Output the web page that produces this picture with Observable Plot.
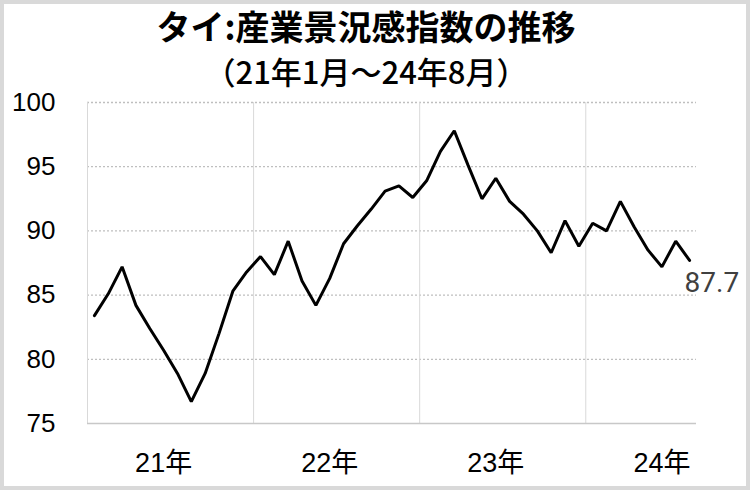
<!DOCTYPE html>
<html>
<head>
<meta charset="utf-8">
<script src="https://cdn.jsdelivr.net/npm/d3@7"></script>
<script src="https://cdn.jsdelivr.net/npm/@observablehq/plot@0.6"></script>
<style>
  html, body { margin: 0; padding: 0; background: #fff; }
  #wrap { position: relative; width: 750px; height: 490px; overflow: hidden; background: #fff; }
  #frame { position: absolute; left: 0; top: 0; width: 750px; height: 490px; box-sizing: border-box;
           border: 4px solid #d9d9d9; pointer-events: none; }
  .title { position: absolute; left: 0; width: 732px; text-align: center; color: #000;
           font-family: "Noto Sans CJK JP", sans-serif; white-space: nowrap; }
  #t1 { top: 6px; font-size: 34px; font-weight: 700; line-height: 40px; }
  #t2 { top: 51px; font-size: 31px; font-weight: 500; line-height: 40px; }
  #chart { position: absolute; left: 0; top: 76px; }
</style>
</head>
<body>
<div id="wrap">
  <div class="title" id="t1"></div>
  <div class="title" id="t2"></div>
  <div id="chart"></div>
  <div id="frame"></div>
</div>
<script>
const titleText = "タイ:産業景況感指数の推移";
const subtitleText = "（21年1月～24年8月）";
const startYear = 2021;
const yearLabels = ["21年", "22年", "23年", "24年"];
const yTicks = [75, 80, 85, 90, 95, 100];
const gridValues = [80, 85, 90, 95, 100];
// Monthly index, Jan 2021 - Aug 2024
const values = [
  83.4, 85.1, 87.2, 84.2, 82.4, 80.7, 78.9, 76.7, 78.9, 82.0, 85.3, 86.8,
  88.0, 86.6, 89.2, 86.1, 84.2, 86.3, 89.0, 90.4, 91.7, 93.1, 93.5, 92.6,
  93.9, 96.2, 97.8, 95.1, 92.5, 94.1, 92.3, 91.3, 90.0, 88.3, 90.8, 88.8,
  90.6, 90.0, 92.3, 90.3, 88.5, 87.2, 89.2, 87.7
];

document.getElementById("t1").textContent = titleText;
document.getElementById("t2").textContent = subtitleText;

const data = values.map((v, i) => ({i, v}));
const last = data[data.length - 1];
const boundaries = yearLabels.map((_, k) => k * 12 - 0.5);
const yearTicks = yearLabels.map((_, k) => k * 12 + 5);

const chart = Plot.plot({
  width: 750,
  height: 410,
  marginTop: 26,
  marginBottom: 63,
  marginLeft: 87,
  marginRight: 54,
  style: {fontFamily: "'Liberation Sans', 'Noto Sans CJK JP', sans-serif", background: "transparent", color: "#000", overflow: "visible"},
  x: {domain: [-0.5, values.length - 0.5]},
  y: {domain: [75, 100]},
  marks: [
    Plot.ruleY(gridValues, {stroke: "#bfbfbf", strokeWidth: 1.3, strokeDasharray: "2,2"}),
    Plot.ruleX(boundaries, {stroke: "#d9d9d9", strokeWidth: 1}),
    Plot.ruleY([75], {stroke: "#c8c8c8", strokeWidth: 1.6}),
    Plot.line(data, {x: "i", y: "v", stroke: "#000", strokeWidth: 3, strokeLinejoin: "miter"}),
    Plot.text([last], {x: "i", y: "v", text: d => d.v.toFixed(1), textAnchor: "start", dx: -5, dy: 23,
      fontSize: 28, fill: "#404040", fontFamily: "Roboto"}),
    Plot.axisY({ticks: yTicks, tickSize: 0, tickPadding: 32, fontSize: 26, label: null}),
    Plot.axisX({ticks: yearTicks, tickFormat: v => yearLabels[(v - 5) / 12], tickSize: 0, tickPadding: 29,
      fontSize: 27, label: null})
  ]
});
document.getElementById("chart").appendChild(chart);
</script>
</body>
</html>
